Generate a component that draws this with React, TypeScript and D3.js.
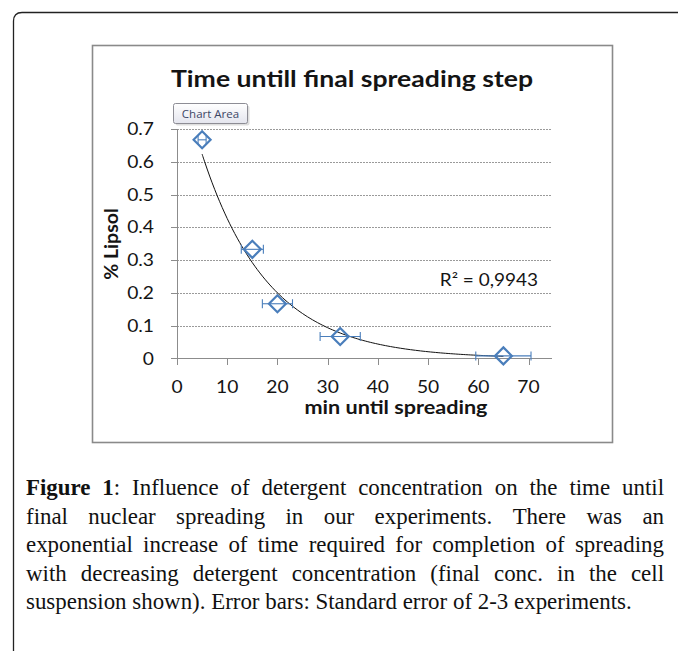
import React, { useEffect, useRef } from "react";
import * as d3 from "d3";

// data
const minutes = [5, 15, 20, 32.5, 65];
const lipsol = [0.667, 0.333, 0.167, 0.067, 0.008];
const minutesErr = [0.8, 2.2, 3, 4, 5.5];
const xTicks = [0, 10, 20, 30, 40, 50, 60, 70];
const yTicks = [0, 0.1, 0.2, 0.3, 0.4, 0.5, 0.6, 0.7];
// exponential trendline y = a * exp(b * x) as drawn by Excel
const trendA = 0.91;
const trendB = -0.0757;
const trendLabel = "R² = 0,9943";

const captionLines = [
    "Figure 1: Influence of detergent concentration on the time until",
    "final nuclear spreading in our experiments. There was an",
    "exponential increase of time required for completion of spreading",
    "with decreasing detergent concentration (final conc. in the cell",
    "suspension shown). Error bars: Standard error of 2-3 experiments.",
];

function App() {
    const svgRef = useRef<SVGSVGElement>(null);

    useEffect(() => {
        const width = 678;
        const height = 651;
        const blue = "#4a7ebb";
        const axisGray = "#8c8c8c";
        const chartFont = "Lato, 'Open Sans', sans-serif";

        const svg = d3.select(svgRef.current)
            .attr("width", width)
            .attr("height", height);

        svg.selectAll("*").remove();

        // the chart picture in the paper is stretched sideways, so texts get a scaleX
        const stretched = (parent, x, y, sx, anchor, size, bold, txt) =>
            parent.append("text")
                .attr("transform", `translate(${x},${y}) scale(${sx},1)`)
                .attr("text-anchor", anchor)
                .attr("font-family", chartFont)
                .attr("font-size", size)
                .attr("font-weight", bold ? "bold" : "normal")
                .attr("fill", "#141414")
                .text(txt);

        // outer frame of the figure (rounded top-left corner)
        svg.append("path")
            .attr("d", `M13.5,${height + 2} L13.5,21 Q13.5,12.5 22,12.5 L${width + 2},12.5`)
            .attr("fill", "none")
            .attr("stroke", "#222")
            .attr("stroke-width", 1.3);

        // chart box
        svg.append("rect")
            .attr("x", 92.5)
            .attr("y", 45.5)
            .attr("width", 520)
            .attr("height", 397)
            .attr("fill", "white")
            .attr("stroke", "#8a8a8a")
            .attr("stroke-width", 1.6);

        const xScale = d3.scaleLinear().domain([0, 70]).range([177, 528.5]);
        const yScale = d3.scaleLinear().domain([0, 0.7]).range([358.5, 129]);
        const plotRight = 552;

        // gridlines
        svg.append("g")
            .selectAll("line")
            .data(yTicks.filter(d => d > 0))
            .enter()
            .append("line")
            .attr("x1", 171)
            .attr("x2", plotRight)
            .attr("y1", d => Math.round(yScale(d)) + 0.5)
            .attr("y2", d => Math.round(yScale(d)) + 0.5)
            .attr("stroke", "#9a9a9a")
            .attr("stroke-dasharray", "2,1");

        // y axis line + ticks
        svg.append("line")
            .attr("x1", 177.5).attr("x2", 177.5)
            .attr("y1", yScale(0.7)).attr("y2", yScale(0))
            .attr("stroke", axisGray);
        svg.append("g")
            .selectAll("line")
            .data(yTicks.filter(d => d > 0))
            .enter()
            .append("line")
            .attr("x1", 171).attr("x2", 177)
            .attr("y1", d => Math.round(yScale(d)) + 0.5)
            .attr("y2", d => Math.round(yScale(d)) + 0.5)
            .attr("stroke", axisGray);

        // x axis line + ticks
        svg.append("line")
            .attr("x1", 171).attr("x2", plotRight)
            .attr("y1", 358.5).attr("y2", 358.5)
            .attr("stroke", axisGray);
        svg.append("g")
            .selectAll("line")
            .data(xTicks)
            .enter()
            .append("line")
            .attr("x1", d => Math.round(xScale(d)) + 0.5)
            .attr("x2", d => Math.round(xScale(d)) + 0.5)
            .attr("y1", 358.5).attr("y2", 365)
            .attr("stroke", axisGray);

        // tick labels
        const tickG = svg.append("g");
        yTicks.forEach(d => {
            stretched(tickG, 154, yScale(d) + 6, 1.1, "end", 17.5, false, d === 0 ? "0" : d3.format(".1f")(d));
        });
        xTicks.forEach(d => {
            stretched(tickG, xScale(d), 393, 1.1, "middle", 17.5, false, String(d));
        });

        // titles
        stretched(svg, 352, 87, 1.21, "middle", 22, true, "Time untill final spreading step");
        stretched(svg, 396, 414, 1.2, "middle", 18, true, "min until spreading");
        svg.append("text")
            .attr("transform", "translate(117.5,244) rotate(-90)")
            .attr("text-anchor", "middle")
            .attr("font-family", chartFont)
            .attr("font-weight", "bold")
            .attr("font-size", 19.5)
            .attr("fill", "#141414")
            .text("% Lipsol");

        // trendline
        const trendX = d3.range(minutes[0], minutes[minutes.length - 1] + 0.01, 0.5);
        const line = d3.line<number>()
            .x(d => xScale(d))
            .y(d => yScale(trendA * Math.exp(trendB * d)))
            .curve(d3.curveBasis);
        svg.append("path")
            .datum(trendX)
            .attr("d", line)
            .attr("fill", "none")
            .attr("stroke", "#111")
            .attr("stroke-width", 1);

        stretched(svg, 538, 286, 1.15, "end", 16.5, false, trendLabel);

        const points = minutes.map((m, i) => ({ x: m, y: lipsol[i], e: minutesErr[i] }));

        // horizontal error bars
        const errG = svg.append("g")
            .attr("stroke", blue)
            .attr("stroke-width", 1.1);
        points.forEach(p => {
            const cy = yScale(p.y);
            const x0 = xScale(p.x - p.e);
            const x1 = xScale(p.x + p.e);
            errG.append("line").attr("x1", x0).attr("x2", x1).attr("y1", cy).attr("y2", cy);
            errG.append("line").attr("x1", x0).attr("x2", x0).attr("y1", cy - 4.5).attr("y2", cy + 4.5);
            errG.append("line").attr("x1", x1).attr("x2", x1).attr("y1", cy - 4.5).attr("y2", cy + 4.5);
        });

        // diamond markers
        svg.append("g")
            .selectAll("path")
            .data(points)
            .enter()
            .append("path")
            .attr("transform", d => `translate(${xScale(d.x)},${yScale(d.y)})`)
            .attr("d", "M0,-8.5 L8.5,0 L0,8.5 L-8.5,0 Z")
            .attr("fill", "none")
            .attr("stroke", blue)
            .attr("stroke-width", 2.2);

        // "Chart Area" hover tag
        const defs = svg.append("defs");
        const grad = defs.append("linearGradient")
            .attr("id", "tagGrad")
            .attr("x1", 0).attr("y1", 0).attr("x2", 0).attr("y2", 1);
        grad.append("stop").attr("offset", "0%").attr("stop-color", "#ffffff");
        grad.append("stop").attr("offset", "100%").attr("stop-color", "#e4e5ee");
        svg.append("rect")
            .attr("x", 175.5).attr("y", 105.5)
            .attr("width", 74).attr("height", 20)
            .attr("rx", 2)
            .attr("fill", "#c8c8c8")
            .attr("opacity", 0.6);
        svg.append("rect")
            .attr("x", 173.5).attr("y", 103.5)
            .attr("width", 74).attr("height", 20)
            .attr("rx", 2)
            .attr("fill", "url(#tagGrad)")
            .attr("stroke", "#8d8d95");
        svg.append("text")
            .attr("x", 210.5)
            .attr("y", 118)
            .attr("text-anchor", "middle")
            .attr("font-family", "'Open Sans', sans-serif")
            .attr("font-size", 11.5)
            .attr("fill", "#3d4766")
            .text("Chart Area");

        // caption, justified word by word
        const capLeft = 26;
        const capRight = 664;
        const capFont = "'Liberation Serif', 'DejaVu Serif', serif";
        const baselines = [495, 523.5, 552, 580.5, 609];

        // size the font so the last (unjustified) line has the same length as in the figure
        const probe = svg.append("text")
            .attr("font-family", capFont)
            .attr("font-size", 20)
            .text(captionLines[captionLines.length - 1]);
        const probeW = (probe.node() as SVGTextElement).getComputedTextLength();
        probe.remove();
        const capSize = Math.min(24, 20 * 606 / probeW);

        const capG = svg.append("g")
            .attr("font-family", capFont)
            .attr("font-size", capSize)
            .attr("fill", "#111");

        captionLines.forEach((ln, li) => {
            const words = ln.split(" ");
            const nodes = words.map((w, wi) => {
                const t = capG.append("text").attr("y", baselines[li]);
                if (li === 0 && wi < 2) {
                    const m = w.match(/^([A-Za-z0-9]+)(.*)$/);
                    t.append("tspan").attr("font-weight", "bold").text(m ? m[1] : w);
                    if (m && m[2]) t.append("tspan").text(m[2]);
                } else {
                    t.text(w);
                }
                return t;
            });
            const widths = nodes.map(n => (n.node() as SVGTextElement).getComputedTextLength());
            const total = d3.sum(widths);
            const last = li === captionLines.length - 1;
            const gap = last ? capSize * 0.25 : (capRight - capLeft - total) / (words.length - 1);
            let x = capLeft;
            nodes.forEach((n, i) => {
                n.attr("x", x);
                x += widths[i] + gap;
            });
        });
    }, []);

    return <svg ref={svgRef} style={{ position: "absolute", left: 0, top: 0 }}></svg>;
}

export default App;
